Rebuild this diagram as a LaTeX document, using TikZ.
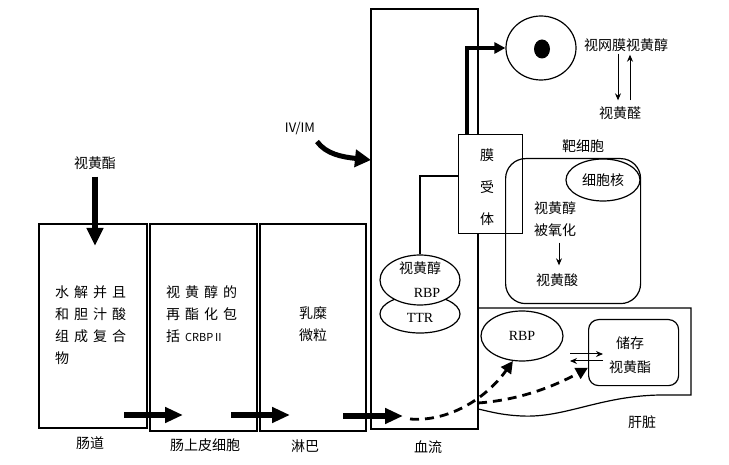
\documentclass[tikz,border=0pt]{standalone}
\usepackage{fontspec}
\setmainfont{Noto Sans CJK SC}
\newfontfamily\serifrm{Liberation Serif}
\usetikzlibrary{arrows.meta,shapes.geometric,calc}
\newcommand\chgap{\hspace{5pt}}
\begin{document}
\begin{tikzpicture}[x=1pt,y=-1pt,
  every node/.style={font=\fontsize{14}{16}\selectfont, inner sep=0pt},
  box/.style={draw, line width=1.8pt, anchor=north west},
  thin/.style={line width=1.2pt},
  serifl/.style={font=\serifrm\fontsize{14}{16}\selectfont},
  bigarrow/.style={line width=6pt, -{Triangle[length=18pt,width=16pt]}},
  midarrow/.style={line width=6pt, -{Triangle[length=18pt,width=15pt]}},
  ivarrow/.style={line width=5pt, -{Triangle[length=16pt,width=17pt]}},
  thinarrow/.style={line width=1pt, -{Stealth[length=7pt,width=6pt]}},
  dasharrow/.style={line width=2.8pt, dash pattern=on 9pt off 6pt, -{Triangle[length=12pt,width=12pt]}},
  multi/.style={align=left, anchor=north west, font=\fontsize{14}{22}\selectfont}]
\useasboundingbox (0,0) rectangle (729,465);

% boxes
\node[box, minimum width=108pt, minimum height=204pt] (gut) at (38,223) {};
\node[box, minimum width=107pt, minimum height=207pt] (epi) at (149,223) {};
\node[box, minimum width=106pt, minimum height=207pt] (lym) at (259,223) {};
\node[box, minimum width=107pt, minimum height=420pt] (blood) at (370,8) {};

% box texts
\node[multi] (gutT) at (55,285) {水\chgap 解\chgap 并\chgap 且\\和\chgap 胆\chgap 汁\chgap 酸\\组\chgap 成\chgap 复\chgap 合\\物};
\node[multi] (epiT) at (166,285) {视\chgap 黄\chgap 醇\chgap 的\\再\chgap 酯\chgap 化\chgap 包\\括\chgap {\fontsize{11}{11}\selectfont CRBP\,II}};
\node[align=center, font=\fontsize{14}{22}\selectfont] (lymT) at (313,324) {乳糜\\微粒};

% top input arrow
\node (ra) at (95,163) {视黄酯};
\coordinate (raTip) at (95,246);
\draw[bigarrow, shorten <=7pt] (ra.south) -- (raTip);

% bottom arrows
\coordinate (a1s) at (124,415); \coordinate (a1e) at (183,415);
\coordinate (a2s) at (231,415); \coordinate (a2e) at (290,415);
\coordinate (a3s) at (343,416); \coordinate (a3e) at (403,416);
\draw[midarrow] (a1s) -- (a1e);
\draw[midarrow] (a2s) -- (a2e);
\draw[midarrow] (a3s) -- (a3e);

% IV/IM
\node[font=\fontsize{13}{15}\selectfont] (iv) at (300,129) {IV/IM};
\coordinate (ivTip) at (371,160);
\draw[ivarrow] ([shift={(17,6)}]iv.south) .. controls (326,154) and (342,157) .. (ivTip);

% receptor
\node[draw, thin, fill=white, minimum width=64pt, minimum height=99pt, anchor=north west] (rec) at (458,134) {};
\node[font=\fontsize{14}{32}\selectfont, align=center] (recT) at (487,187) {膜\\受\\体};

% eye
\node[draw, ellipse, thin, minimum width=70pt, minimum height=64pt] (eye) at (541,48) {};
\node[fill=black, ellipse, minimum width=16pt, minimum height=19pt] (pupil) at (542,49) {};
\draw[line width=3.5pt, -{Triangle[length=11pt,width=11pt]}] ([xshift=9pt]rec.north west) |- (eye.west);

\node (ret) at (626,45) {视网膜视黄醇};
\node (ral) at (620,113) {视黄醛};
\draw[thinarrow, shorten >=6pt, shorten <=2pt] ([xshift=-8pt]ret.south) -- ([xshift=-2pt]ral.north);
\draw[thinarrow, shorten <=6pt, shorten >=3pt] ([xshift=10pt]ral.north) -- ([xshift=4pt]ret.south);

% target cell
\node[draw, thin, rounded corners=20pt, minimum width=135pt, minimum height=145pt, anchor=north west] (tc) at (505,158) {};
\node (tcL) at (583,146) {靶细胞};
\node[draw, ellipse, thin, minimum width=74pt, minimum height=42pt] (nuc) at (603,180) {};
\node (nucT) at (603,180) {细胞核};
\node (tx1) at (555,208) {视黄醇};
\node (tx2) at (555,230) {被氧化};
\node (tx3) at (557,280) {视黄酸};
\draw[thinarrow, shorten <=6pt, shorten >=8pt] ([xshift=4pt]tx2.south) -- ([xshift=2pt]tx3.north);

% blood carriers
\node[draw, ellipse, thin, minimum width=80pt, minimum height=38pt] (ttr) at (420,314) {};
\node[draw, ellipse, thin, fill=white, minimum width=80pt, minimum height=50pt] (rbp1) at (420,280) {};
\node (rbp1a) at (420,268) {视黄醇};
\node[serifl] (rbp1b) at (427,293) {RBP};
\node[serifl] (ttrT) at (420,318) {TTR};
\coordinate (recL) at (458,176);
\draw[line width=2.5pt] (recL) -| (rbp1.north);

% liver
\draw[thin] (478,308) -- (691,308) -- (691,395) -- (660,395) .. controls (600,396) and (565,418) .. (522,416) .. controls (500,415) and (488,411) .. (478,409) -- cycle;
\node (liver) at (642,422) {肝脏};
\node[draw, ellipse, thin, minimum width=82pt, minimum height=50pt, serifl] (rbp2) at (522,336) {RBP};
\node[draw, thin, rounded corners=10pt, minimum width=90pt, minimum height=66pt, anchor=north west] (store) at (588,319) {};
\node[align=center, font=\fontsize{14}{24}\selectfont] (storeT) at (630,355) {储存\\视黄酯};
\coordinate (d1) at (570,354); \coordinate (d2) at (603,354);
\coordinate (d3) at (603,361); \coordinate (d4) at (570,361);
\draw[thinarrow] (d1) -- (d2);
\draw[thinarrow] (d3) -- (d4);

% dashed transport
\coordinate (ds) at (410,419);
\coordinate (ds2) at (478,403);
\draw[dasharrow] (ds) .. controls (447,422) and (485,400) .. (rbp2.250);
\draw[dasharrow] (ds2) .. controls (520,400) and (555,386) .. ($(store.west)!0.45!(store.south west)$);

% bottom labels
\node (l1) at (90,443) {肠道};
\node (l2) at (205,445) {肠上皮细胞};
\node (l3) at (305,446) {淋巴};
\node (l4) at (428,447) {血流};
\end{tikzpicture}
\end{document}
